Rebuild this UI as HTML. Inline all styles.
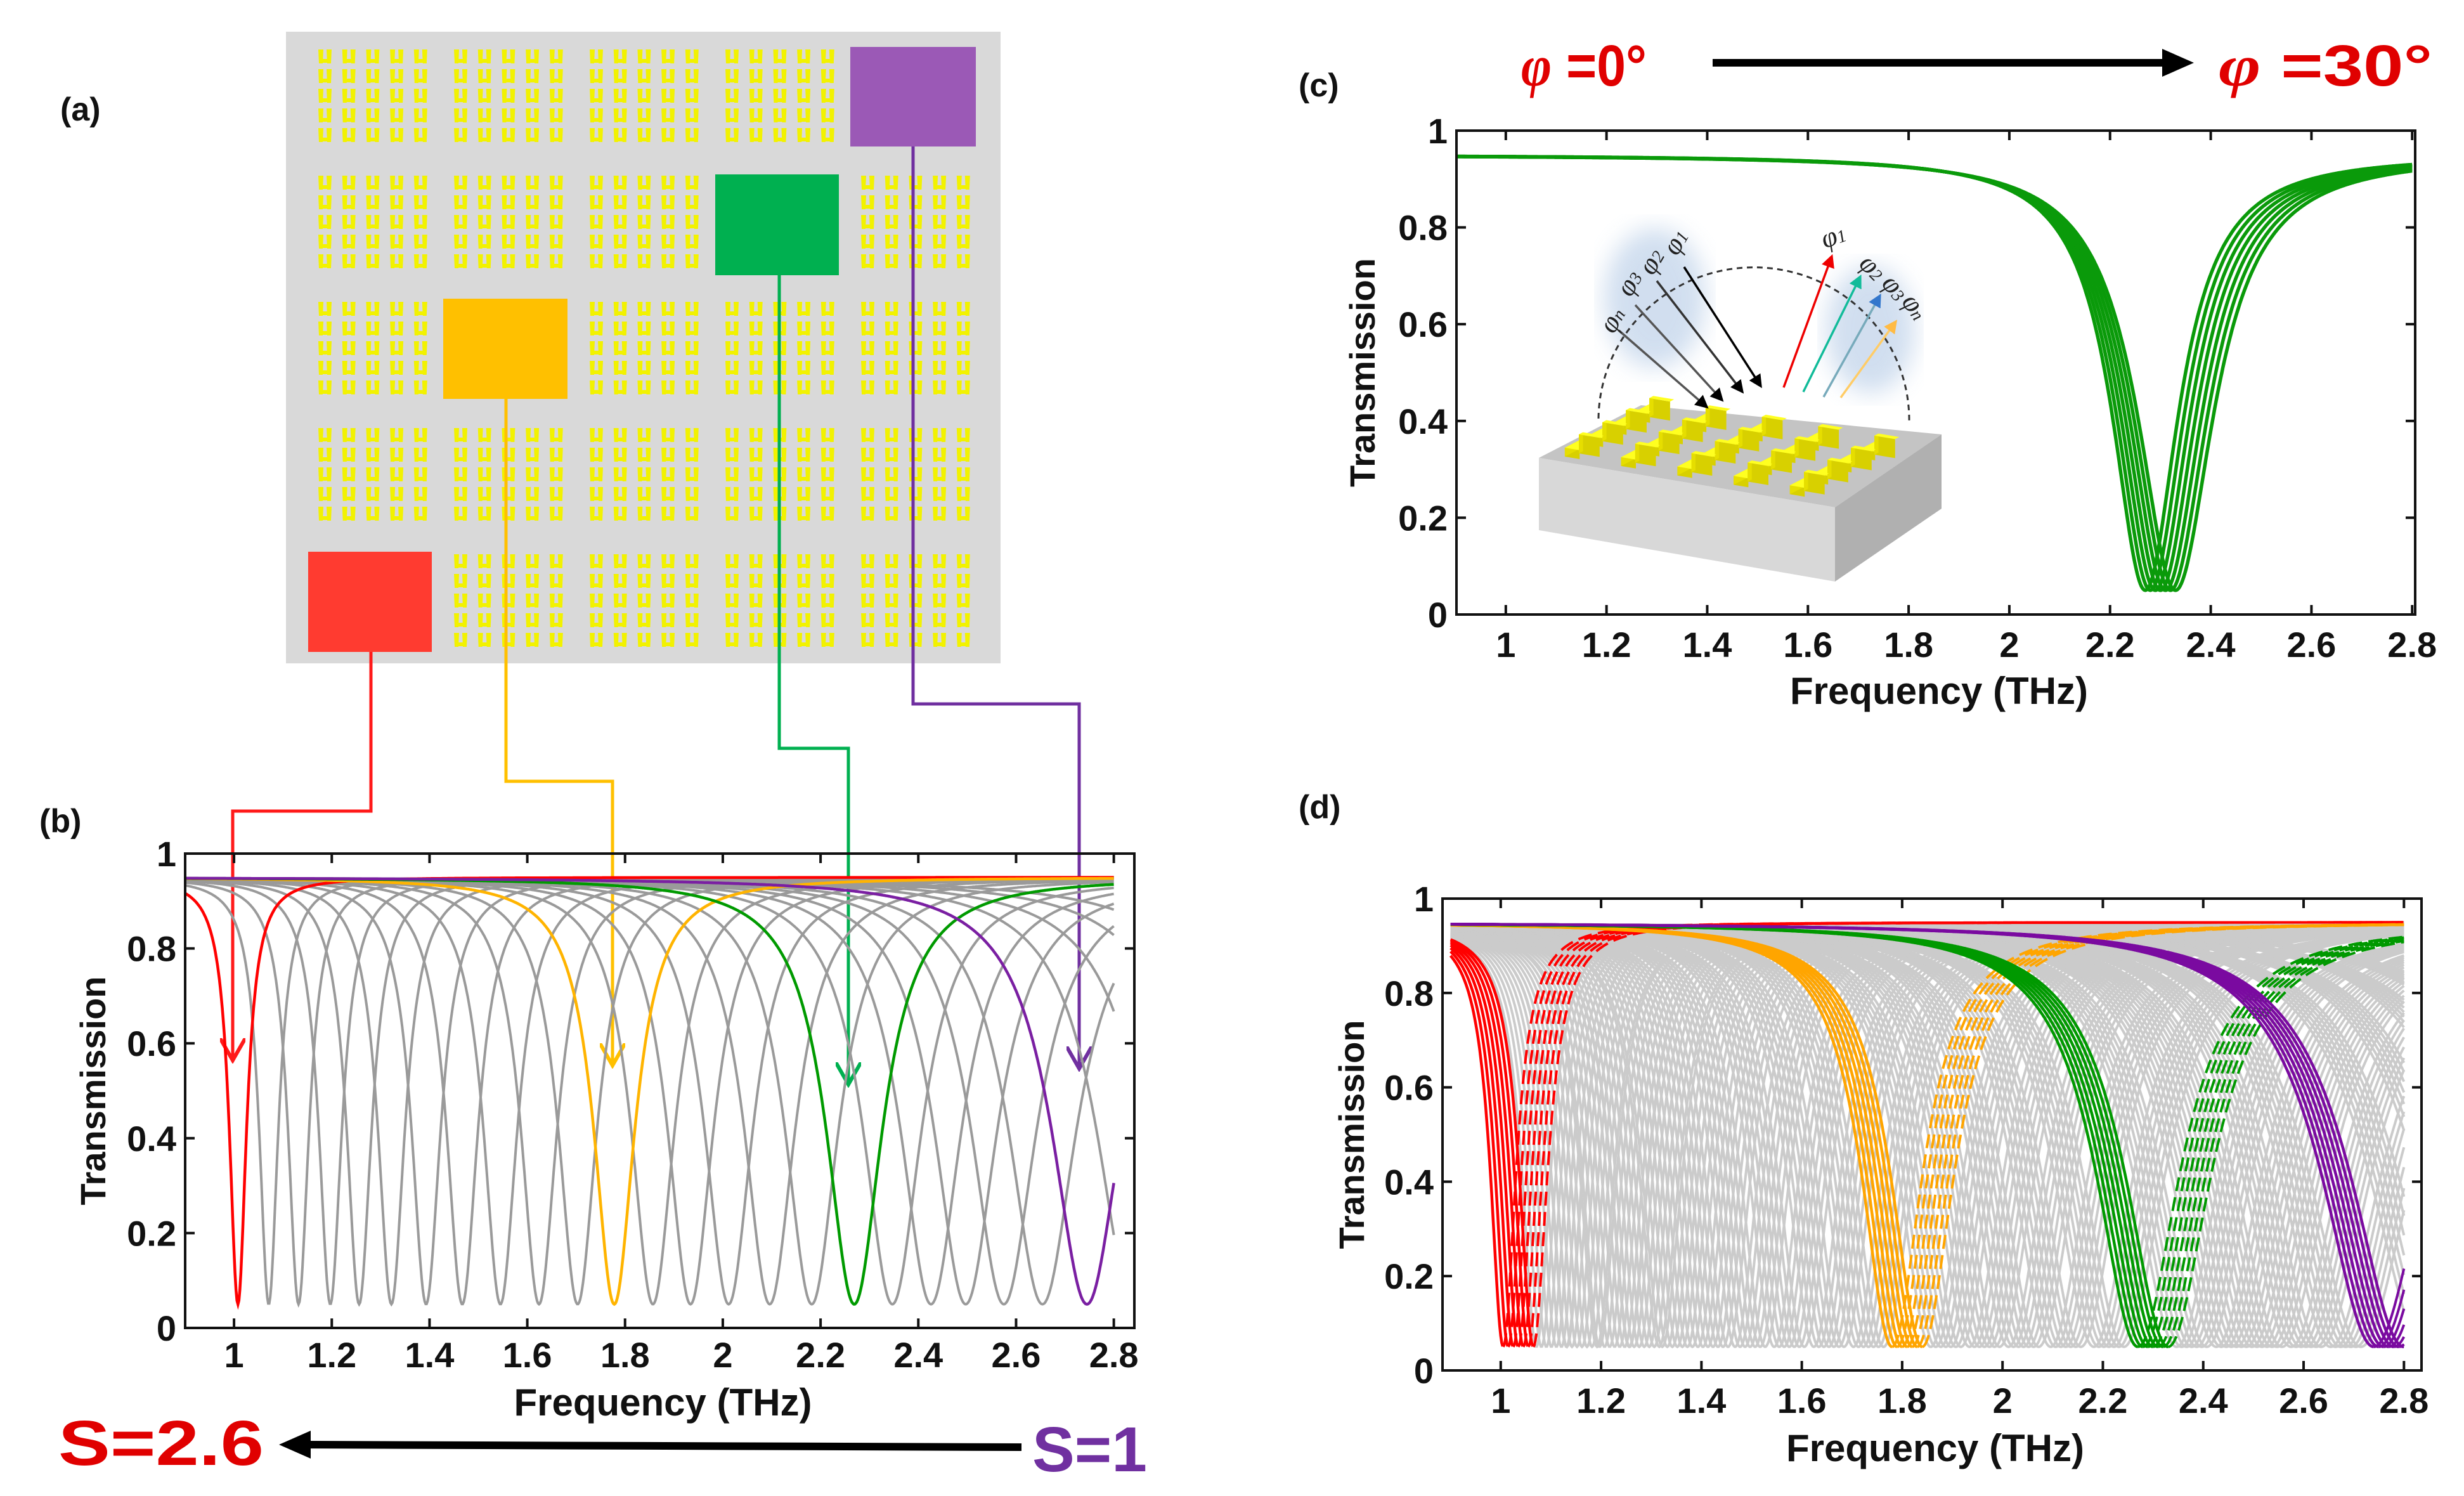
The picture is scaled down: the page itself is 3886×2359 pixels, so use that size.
<!DOCTYPE html>
<html><head><meta charset="utf-8"><style>
html,body{margin:0;padding:0;background:#fff;}
svg{display:block;}
.tk{font-family:"Liberation Sans Narrow","Liberation Sans",sans-serif;font-weight:bold;font-size:56px;fill:#111;}
.ttl{font-family:"Liberation Sans Narrow","Liberation Sans",sans-serif;font-weight:bold;font-size:60px;fill:#111;}
.ylab{font-family:"Liberation Sans",sans-serif;font-weight:bold;font-size:56px;fill:#111;}
.pl{font-family:"Liberation Sans",sans-serif;font-weight:bold;font-size:52px;fill:#111;}
.phi{font-family:"Liberation Serif","DejaVu Serif",serif;font-style:italic;font-size:44px;fill:#222;}
</style></head><body>
<svg id="fig" width="3886" height="2359" viewBox="0 0 3886 2359" xmlns="http://www.w3.org/2000/svg">
<defs>
<marker id="ahK" markerWidth="6" markerHeight="6" refX="5" refY="3" orient="auto" markerUnits="strokeWidth"><path d="M0,0 L6,3 L0,6 z" fill="#000"/></marker>
<marker id="ahR" markerWidth="6" markerHeight="6" refX="5" refY="3" orient="auto" markerUnits="strokeWidth"><path d="M0,0 L6,3 L0,6 z" fill="#e00"/></marker>
<marker id="ahG" markerWidth="6" markerHeight="6" refX="5" refY="3" orient="auto" markerUnits="strokeWidth"><path d="M0,0 L6,3 L0,6 z" fill="#1b9"/></marker>
<marker id="ahB" markerWidth="6" markerHeight="6" refX="5" refY="3" orient="auto" markerUnits="strokeWidth"><path d="M0,0 L6,3 L0,6 z" fill="#37c"/></marker>
<marker id="ahO" markerWidth="6" markerHeight="6" refX="5" refY="3" orient="auto" markerUnits="strokeWidth"><path d="M0,0 L6,3 L0,6 z" fill="#fb4"/></marker>
<marker id="open" markerWidth="8" markerHeight="8" refX="7" refY="4" orient="auto" markerUnits="strokeWidth"><path d="M0,0 L7,4 L0,8" fill="none" stroke="context-stroke" stroke-width="1.2"/></marker>
<filter id="blur"><feGaussianBlur stdDeviation="18"/></filter>
</defs>

<text class="pl" x="95" y="190">(a)</text>
<text class="pl" x="62" y="1312">(b)</text>
<text class="pl" x="2048" y="152">(c)</text>
<text class="pl" x="2048" y="1290">(d)</text>

<g id="panelA">
<rect x="451" y="50" width="1127" height="996" fill="#d9d9d9"/>
<g id="glyphs"></g>
<rect x="1341" y="74" width="198" height="157" fill="#9b59b6"/>
<rect x="1128" y="275" width="195" height="159" fill="#00b050"/>
<rect x="699" y="471" width="196" height="158" fill="#ffc000"/>
<rect x="486" y="870" width="195" height="158" fill="#ff3b30"/>
</g>
<g fill="none" stroke-width="5">
<polyline points="585,1028 585,1279 367,1279 367,1672" stroke="#ff1a1a" marker-end="url(#open)"/>
<polyline points="798,629 798,1232 966,1232 966,1680" stroke="#ffc000" marker-end="url(#open)"/>
<polyline points="1229,434 1229,1180 1338,1180 1338,1710" stroke="#00b050" marker-end="url(#open)"/>
<polyline points="1440,231 1440,1110 1702,1110 1702,1685" stroke="#7030a0" marker-end="url(#open)"/>
</g>

<g id="chartB"></g>
<g id="chartC"></g>
<g id="chartD"></g>

<text x="92" y="2310" font-family="Liberation Sans Narrow,Liberation Sans,sans-serif" font-weight="bold" font-size="100" fill="#e00000" textLength="324" lengthAdjust="spacingAndGlyphs">S=2.6</text>
<line x1="1611" y1="2282" x2="470" y2="2278" stroke="#000" stroke-width="12"/>
<path d="M440,2278 L490,2256 L490,2300 z" fill="#000"/>
<text x="1628" y="2320" font-family="Liberation Sans Narrow,Liberation Sans,sans-serif" font-weight="bold" font-size="100" fill="#7030a0" textLength="181" lengthAdjust="spacingAndGlyphs">S=1</text>

<text x="2399" y="135" font-family="Liberation Sans Narrow,Liberation Sans,sans-serif" font-weight="bold" font-size="92" fill="#e00000" textLength="198" lengthAdjust="spacingAndGlyphs"><tspan font-style="italic" font-family="Liberation Serif,serif">φ</tspan> =0°</text>
<line x1="2701" y1="99" x2="3420" y2="99" stroke="#000" stroke-width="12"/>
<path d="M3460,99 L3410,77 L3410,121 z" fill="#000"/>
<text x="3499" y="135" font-family="Liberation Sans Narrow,Liberation Sans,sans-serif" font-weight="bold" font-size="92" fill="#e00000" textLength="337" lengthAdjust="spacingAndGlyphs"><tspan font-style="italic" font-family="Liberation Serif,serif">φ</tspan> =30°</text>

<g id="inset">
<ellipse cx="2610" cy="470" rx="80" ry="110" fill="#9ab8dd" opacity="0.45" filter="url(#blur)"/>
<ellipse cx="2950" cy="520" rx="70" ry="100" fill="#9ab8dd" opacity="0.45" filter="url(#blur)"/>
<path d="M2521,660 A245,241 0 0 1 3011,665" fill="none" stroke="#333" stroke-width="3" stroke-dasharray="9 7"/>
<polygon points="2427,722 2588,639 3062,685 2894,800" fill="#c4c4c4"/>
<polygon points="2427,722 2894,800 2894,917 2427,836" fill="#d8d8d8"/>
<polygon points="2894,800 3062,685 3062,802 2894,917" fill="#b0b0b0"/>
<g id="resonators"></g>
<g stroke-width="3.5" fill="none">
<line x1="2656" y1="421" x2="2777" y2="609" stroke="#000" marker-end="url(#ahK)"/>
<line x1="2613" y1="443" x2="2748" y2="618" stroke="#333" marker-end="url(#ahK)"/>
<line x1="2579" y1="481" x2="2716" y2="631" stroke="#555" marker-end="url(#ahK)"/>
<line x1="2553" y1="521" x2="2692" y2="642" stroke="#555" marker-end="url(#ahK)"/>
</g>
<g stroke-width="3.5" fill="none">
<line x1="2813" y1="611" x2="2889" y2="404" stroke="#e00" marker-end="url(#ahR)"/>
<line x1="2844" y1="618" x2="2934" y2="436" stroke="#1b9" marker-end="url(#ahG)"/>
<line x1="2876" y1="626" x2="2965" y2="466" stroke="#7ab" marker-end="url(#ahB)"/>
<line x1="2903" y1="627" x2="2990" y2="507" stroke="#fc6" marker-end="url(#ahO)"/>
</g>
<text class="phi" x="2645" y="405" transform="rotate(-60 2645 405)">φ<tspan font-size="28">1</tspan></text>
<text class="phi" x="2607" y="436" transform="rotate(-60 2607 436)">φ<tspan font-size="28">2</tspan></text>
<text class="phi" x="2572" y="470" transform="rotate(-60 2572 470)">φ<tspan font-size="28">3</tspan></text>
<text class="phi" x="2545" y="528" transform="rotate(-60 2545 528)">φ<tspan font-size="28">n</tspan></text>
<text class="phi" x="2878" y="392" transform="rotate(-20 2878 392)">φ<tspan font-size="28">1</tspan></text>
<text class="phi" x="2930" y="418" transform="rotate(45 2930 418)">φ<tspan font-size="28">2</tspan></text>
<text class="phi" x="2966" y="448" transform="rotate(50 2966 448)">φ<tspan font-size="28">3</tspan></text>
<text class="phi" x="2998" y="476" transform="rotate(55 2998 476)">φ<tspan font-size="28">n</tspan></text>
</g>

<script>
// ---------- data ----------
const yTickVals = [0, 0.2, 0.4, 0.6, 0.8, 1];
const yTickLabels = ["0", "0.2", "0.4", "0.6", "0.8", "1"];
const xTickVals = [1, 1.2, 1.4, 1.6, 1.8, 2, 2.2, 2.4, 2.6, 2.8];
const xTickLabels = ["1", "1.2", "1.4", "1.6", "1.8", "2", "2.2", "2.4", "2.6", "2.8"];
const bGrayDips = [1.071, 1.132, 1.197, 1.256, 1.322, 1.393, 1.467, 1.545, 1.624, 1.703, 1.857, 1.934, 2.012, 2.096, 2.182, 2.347, 2.426, 2.497, 2.575, 2.654, 2.84, 2.94, 3.05, 3.16];
const bColorDips = [1.008, 1.778, 2.269, 2.745];
const bColorNames = ["red", "yellow", "green", "purple"];
const bColors = ["#ff0000", "#ffb400", "#009a00", "#7a1fa2"];
const cDips = [2.27, 2.28, 2.29, 2.30, 2.31, 2.32, 2.33];
const cWidths = [0.080, 0.082, 0.084, 0.086, 0.088, 0.090, 0.092];
const dAngleShifts = [0, 0.01, 0.02, 0.03, 0.04, 0.05, 0.06];
const dColorDips = [1.005, 1.78, 2.27, 2.74];
const dColors = ["#ff0000", "#ffa500", "#009900", "#7a0aa0"];
const topLevel = 0.95, floorLevel = 0.05;
const widthBase = 0.021, widthSlope = 0.038;
const dWidthScale = 1.45;

const NS = "http://www.w3.org/2000/svg";
function mk(tag, attrs, parent) {
  const e = document.createElementNS(NS, tag);
  for (const k in attrs) e.setAttribute(k, attrs[k]);
  parent.appendChild(e);
  return e;
}
function dipWidth(f0) { return widthBase + widthSlope * (f0 - 1); }
function trans(f, f0, w) {
  const u = (f - f0) / w;
  return topLevel - (topLevel - floorLevel) / (1 + u * u);
}
function makeAxes(box, xmin, xmax) {
  const sx = v => box.L + (v - xmin) / (xmax - xmin) * (box.R - box.L);
  const sy = v => box.B - v * (box.B - box.T);
  return { sx, sy };
}
function drawFrame(g, box, ax, name, xlabY, titleY, ylabX) {
  const fr = mk('rect', { x: box.L, y: box.T, width: box.R - box.L, height: box.B - box.T, fill: 'none', stroke: '#111', 'stroke-width': 4 }, g);
  
  
  xTickVals.forEach((v, i) => {
    const x = ax.sx(v);
    const t1 = mk('line', { x1: x, y1: box.B, x2: x, y2: box.B - 15, stroke: '#111', 'stroke-width': 4 }, g);
    
    
    const t2 = mk('line', { x1: x, y1: box.T, x2: x, y2: box.T + 15, stroke: '#111', 'stroke-width': 4 }, g);
    
    
    const tx = mk('text', { x: x, y: xlabY, 'text-anchor': 'middle', class: 'tk' }, g);
    tx.textContent = xTickLabels[i];
    
    
  });
  yTickVals.forEach((v, i) => {
    const y = ax.sy(v);
    const t1 = mk('line', { x1: box.L, y1: y, x2: box.L + 15, y2: y, stroke: '#111', 'stroke-width': 4 }, g);
    
    
    const t2 = mk('line', { x1: box.R, y1: y, x2: box.R - 15, y2: y, stroke: '#111', 'stroke-width': 4 }, g);
    
    
    const tx = mk('text', { x: box.L - 14, y: y + 20, 'text-anchor': 'end', class: 'tk' }, g);
    tx.textContent = yTickLabels[i];
    
    
  });
  const xt = mk('text', { x: (box.L + box.R) / 2 + 5, y: titleY, 'text-anchor': 'middle', class: 'ttl' }, g);
  xt.textContent = 'Frequency (THz)';
  
  
  const cy = (box.T + box.B) / 2;
  const yt = mk('text', { x: ylabX, y: cy, 'text-anchor': 'middle', class: 'ylab', transform: 'rotate(-90 ' + ylabX + ' ' + cy + ')' }, g);
  yt.textContent = 'Transmission';
  
  
}
function curvePath(ax, f0, w, fa, fb) {
  let d = '';
  for (let f = fa; f <= fb + 1e-9; f += 0.002) {
    d += (d ? 'L' : 'M') + ax.sx(f).toFixed(1) + ',' + ax.sy(trans(f, f0, w)).toFixed(1);
  }
  return d;
}

(function () {
  const g = document.getElementById('glyphs');
  for (let br = 0; br < 5; br++) for (let bc = 0; bc < 5; bc++) {
    for (let r = 0; r < 5; r++) for (let c = 0; c < 5; c++) {
      const x = 502 + bc * 214 + c * 37.7, y = 78 + br * 199 + r * 31;
      const p = mk('path', { d: `M${x},${y} l8,0 l-1,22 l-6,0 z M${x + 13},${y} l8,0 l-1,22 l-6,0 z M${x + 3},${y + 15} l15,0 l0,6 l-15,0z`, fill: '#f2f200' }, g);
      
      
    }
  }
})();

(function () {
  const g = document.getElementById('resonators');
  const O = [2427, 722], D = [161, -83], W = [467, 78];
  const P = (a, b) => [O[0] + D[0] * b + W[0] * a, O[1] + D[1] * b + W[1] * a];
  const box = (a0, a1, b0, b1, h) => {
    const p1 = P(a0, b0), p2 = P(a1, b0), p3 = P(a1, b1), p4 = P(a0, b1);
    const up = q => [q[0], q[1] - h];
    const s = arr => arr.map(q => q[0].toFixed(1) + ',' + q[1].toFixed(1)).join(' ');
    const f1 = mk('polygon', { points: s([p1, p2, up(p2), up(p1)]), fill: '#d8d000' }, g);
    
    
    const f2 = mk('polygon', { points: s([p1, p4, up(p4), up(p1)]), fill: '#e6de00' }, g);
    
    
    const f3 = mk('polygon', { points: s([up(p1), up(p2), up(p3), up(p4)]), fill: '#ffff20' }, g);
    
    
  };
  for (let i = 4; i >= 0; i--) {
    const a = 0.06 + i * 0.19;
    for (let j = 3; j >= 0; j--) {
      const b = 0.08 + j * 0.23;
      box(a, a + 0.05, b, b + 0.2, 14);
      box(a + 0.02, a + 0.09, b + 0.08, b + 0.12, 30);
    }
  }
})();

(function () {
  const g = document.getElementById('chartB');
  const box = { L: 292, R: 1789, T: 1346, B: 2094 };
  const ax = makeAxes(box, 0.9, 2.842);
  bGrayDips.forEach(f0 => {
    const p = mk('path', { d: curvePath(ax, f0, dipWidth(f0), 0.9, 2.8), fill: 'none', stroke: '#9a9a9a', 'stroke-width': 4 }, g);
    
    
  });
  bColorDips.forEach((f0, i) => {
    const p = mk('path', { d: curvePath(ax, f0, dipWidth(f0), 0.9, 2.8), fill: 'none', stroke: bColors[i], 'stroke-width': 4.5 }, g);
    
    
  });
  drawFrame(g, box, ax, 'b', 2156, 2232, 166);
})();

(function () {
  const g = document.getElementById('chartC');
  const box = { L: 2297, R: 3809, T: 206, B: 969 };
  const ax = makeAxes(box, 0.902, 2.806);
  cDips.forEach((f0, i) => {
    const p = mk('path', { d: curvePath(ax, f0, cWidths[i], 0.902, 2.8), fill: 'none', stroke: '#0a9a0a', 'stroke-width': 5.5 }, g);
    
    
  });
  drawFrame(g, box, ax, 'c', 1036, 1110, 2168);
})();

(function () {
  const g = document.getElementById('chartD');
  const box = { L: 2275, R: 3819, T: 1417, B: 2161 };
  const ax = makeAxes(box, 0.884, 2.835);
  bGrayDips.forEach(f0 => {
    dAngleShifts.forEach(s => {
      const p = mk('path', { d: curvePath(ax, f0 + s, dipWidth(f0 + s) * dWidthScale, 0.9, 2.8), fill: 'none', stroke: '#cbcbcb', 'stroke-width': 4 }, g);
      
      
    });
  });
  dColorDips.forEach((f0, i) => {
    dAngleShifts.forEach(s => {
      const c = f0 + s, w = dipWidth(c) * dWidthScale;
      const pl = mk('path', { d: curvePath(ax, c, w, 0.9, Math.min(c, 2.8)), fill: 'none', stroke: dColors[i], 'stroke-width': 4.5 }, g);
      
      
      if (c < 2.8) {
        const pr = mk('path', { d: curvePath(ax, c, w, c, 2.8), fill: 'none', stroke: dColors[i], 'stroke-width': 4, 'stroke-dasharray': i === 3 ? 'none' : '22 10' }, g);
        
        
      }
    });
  });
  drawFrame(g, box, ax, 'd', 2228, 2304, 2151);
})();
</script>
</svg>
</body></html>
